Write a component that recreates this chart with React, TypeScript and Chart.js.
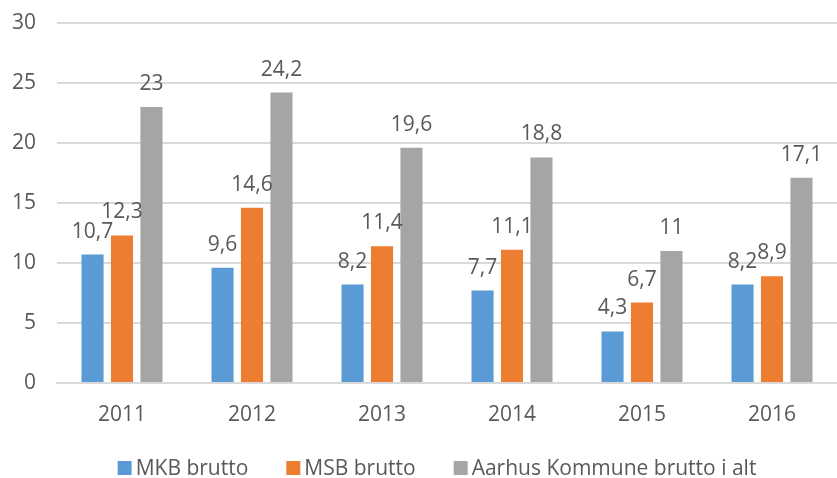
import React, { useEffect, useRef } from "react";
import { Chart, registerables } from "chart.js";

Chart.register(...registerables);

const years = ["2011", "2012", "2013", "2014", "2015", "2016"];
const mkb = [10.7, 9.6, 8.2, 7.7, 4.3, 8.2];
const msb = [12.3, 14.6, 11.4, 11.1, 6.7, 8.9];
const aarhus = [23, 24.2, 19.6, 18.8, 11, 17.1];
const seriesNames = ["MKB brutto", "MSB brutto", "Aarhus Kommune brutto i alt"];
const seriesColors = ["#5B9BD5", "#ED7D31", "#A5A5A5"];

const FONT = "'Open Sans', sans-serif";
const TEXT = "#595959";

const valueLabels = {
  id: "valueLabels",
  afterDatasetsDraw(chart: any) {
    const ctx = chart.ctx;
    ctx.save();
    ctx.font = `21px ${FONT}`;
    ctx.fillStyle = TEXT;
    ctx.textAlign = "center";
    ctx.textBaseline = "alphabetic";
    chart.data.datasets.forEach((ds: any, di: number) => {
      const meta = chart.getDatasetMeta(di);
      meta.data.forEach((bar: any, i: number) => {
        const v = ds.data[i];
        const txt = String(v).replace(".", ",");
        ctx.fillText(txt, bar.x, bar.y - 17);
      });
    });
    ctx.restore();
  },
};

// Legend drawn below the x-axis labels, Excel style
const bottomLegend = {
  id: "bottomLegend",
  afterDraw(chart: any) {
    const ctx = chart.ctx;
    ctx.save();
    ctx.font = `21px ${FONT}`;
    ctx.textBaseline = "middle";
    ctx.textAlign = "left";
    const box = 14;
    const gapText = 4;
    const gapItem = 38;
    const items = chart.data.datasets.map((ds: any) => ({
      text: ds.label,
      color: ds.backgroundColor,
      w: ctx.measureText(ds.label).width,
    }));
    const total =
      items.reduce((s: number, it: any) => s + box + gapText + it.w, 0) +
      gapItem * (items.length - 1);
    const cx = (chart.width + chart.chartArea.left) / 2 - 10;
    let x = cx - total / 2;
    const y = chart.height - 10;
    items.forEach((it: any) => {
      ctx.fillStyle = it.color;
      ctx.fillRect(x, y - box / 2, box, box);
      x += box + gapText;
      ctx.fillStyle = TEXT;
      ctx.fillText(it.text, x, y + 1);
      x += it.w + gapItem;
    });
    ctx.restore();
  },
};

export default function App() {
  const ref = useRef<HTMLCanvasElement>(null);
  useEffect(() => {
    const chart = new Chart(ref.current!, {
      type: "bar",
      data: {
        labels: years,
        datasets: [mkb, msb, aarhus].map((d, i) => ({
          label: seriesNames[i],
          data: d,
          backgroundColor: seriesColors[i],
          categoryPercentage: 0.68,
          barPercentage: 0.75,
        })),
      },
      options: {
        animation: false,
        responsive: true,
        maintainAspectRatio: false,
        layout: { padding: { top: 23, right: 0, left: 0, bottom: 51 } },
        plugins: {
          tooltip: { enabled: false },
          legend: { display: false },
        },
        scales: {
          x: {
            afterFit: (s: any) => {
              s.height = 44;
            },
            grid: { display: false, drawTicks: false },
            border: { display: true, color: "#D9D9D9", width: 2 },
            ticks: { color: TEXT, font: { family: FONT, size: 21 }, padding: 19 },
          },
          y: {
            min: 0,
            max: 30,
            afterFit: (s: any) => {
              s.width = 57;
              s.paddingTop = 0;
              s.paddingBottom = 0;
            },
            border: { display: false },
            grid: { color: "#D9D9D9", lineWidth: 2, drawTicks: false },
            ticks: {
              stepSize: 5,
              color: TEXT,
              font: { family: FONT, size: 21 },
              padding: 21,
            },
          },
        },
      },
      plugins: [valueLabels, bottomLegend],
    });
    return () => chart.destroy();
  }, []);
  return (
    <div style={{ position: "absolute", left: 0, top: 0, width: 837, height: 478, background: "#fff" }}>
      <canvas ref={ref} />
    </div>
  );
}
